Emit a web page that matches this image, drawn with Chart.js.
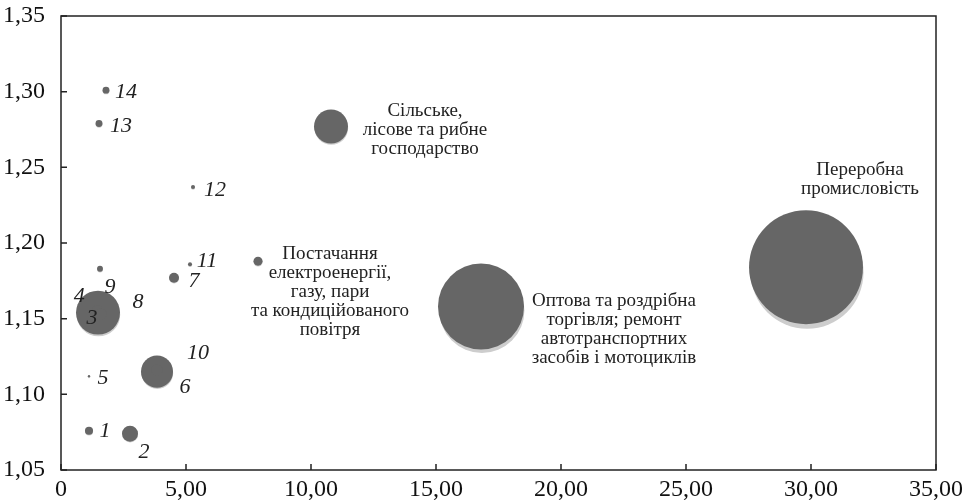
<!DOCTYPE html>
<html>
<head>
<meta charset="utf-8">
<script src="https://cdn.jsdelivr.net/npm/chart.js@4/dist/chart.umd.min.js"></script>
<style>
  body { margin: 0; background: #fff; }
</style>
</head>
<body>
<canvas id="bubbles" width="962" height="501"></canvas>
<script>
// data
var names = ['1', '2', '3', '4', '5', '6', '7', '8', '9', '10', '11', '12', '13', '14',
  'Сільське,\nлісове та рибне\nгосподарство',
  'Постачання\nелектроенергії,\nгазу, пари\nта кондиційованого\nповітря',
  'Оптова та роздрібна\nторгівля; ремонт\nавтотранспортних\nзасобів і мотоциклів',
  'Переробна\nпромисловість'];
var xValues = [1.12, 2.76, 1.48, 1.45, 1.12, 3.84, 4.52, 1.6, 1.56, 3.84, 5.16, 5.28, 1.52, 1.8, 10.8, 7.88, 16.8, 29.8];
var yValues = [1.076, 1.074, 1.154, 1.156, 1.112, 1.115, 1.177, 1.153, 1.183, 1.116, 1.186, 1.237, 1.279, 1.301, 1.277, 1.188, 1.158, 1.184];
var sizes = [0.15, 0.59, 4.47, 0.2, 0.013, 2.37, 0.23, 0.3, 0.08, 0.3, 0.037, 0.037, 0.11, 0.11, 2.67, 0.19, 17.1, 30];
var yTicks = [1.05, 1.10, 1.15, 1.20, 1.25, 1.30, 1.35];

var serif = "'Liberation Serif', 'DejaVu Serif', serif";

var points = [];
for (let i = 0; i < names.length; i++) {
  points.push({ x: xValues[i], y: yValues[i], r: 10.4 * Math.sqrt(sizes[i]) });
}

function fmt(v) {
  return Number(v).toFixed(2).replace(/\./g, ',');
}

// label offsets from bubble centre, px
var labelPos = {
  '1': [16, 1], '2': [14, 19], '3': [-6, 6], '4': [-18, -13], '5': [14, 2],
  '6': [28, 16], '7': [20, 3], '8': [37, -12], '9': [10, 18], '10': [41, -17],
  '11': [17, -3], '12': [22, 3], '13': [22, 3], '14': [20, 2]
};
var sectorPos = [[94, 4], [72, 31], [133, 23], [54, -88]];

// light shadow under every bubble
const shadowPlugin = {
  id: 'shadow',
  beforeDatasetsDraw(chart) {
    const ctx = chart.ctx;
    ctx.save();
    ctx.fillStyle = '#cdcdcd';
    chart.getDatasetMeta(0).data.forEach(el => {
      const r = el.options.radius;
      ctx.beginPath();
      ctx.arc(el.x + r * 0.02, el.y + Math.max(0.8, r * 0.09), r * 0.99, 0, Math.PI * 2);
      ctx.fill();
    });
    ctx.restore();
  }
};

// frame, inward ticks and labels
const framePlugin = {
  id: 'frame',
  afterDraw(chart) {
    const ctx = chart.ctx;
    const a = chart.chartArea;
    const xs = chart.scales.x, ys = chart.scales.y;
    ctx.save();
    ctx.strokeStyle = '#222';
    ctx.lineWidth = 1.5;
    ctx.strokeRect(a.left, a.top, a.right - a.left, a.bottom - a.top);
    ctx.beginPath();
    xs.ticks.forEach(t => {
      const px = xs.getPixelForValue(t.value);
      ctx.moveTo(px, a.bottom);
      ctx.lineTo(px, a.bottom - 6);
    });
    ys.ticks.forEach(t => {
      const py = ys.getPixelForValue(t.value);
      ctx.moveTo(a.left, py);
      ctx.lineTo(a.left + 6, py);
    });
    ctx.stroke();

    ctx.fillStyle = '#222';
    ctx.textAlign = 'center';
    ctx.textBaseline = 'middle';
    const els = chart.getDatasetMeta(0).data;
    els.forEach((el, i) => {
      const name = names[i];
      if (labelPos[name]) {
        ctx.font = 'italic 22px ' + serif;
        ctx.fillText(name, el.x + labelPos[name][0], el.y + labelPos[name][1]);
      } else {
        const off = sectorPos[i - 14];
        const lines = name.split('\n');
        const lh = 19;
        ctx.font = '19px ' + serif;
        lines.forEach((ln, k) => {
          ctx.fillText(ln, el.x + off[0], el.y + off[1] + (k - (lines.length - 1) / 2) * lh);
        });
      }
    });
    ctx.restore();
  }
};

const ctx = document.querySelector('#bubbles').getContext('2d');
const config = {
  type: 'bubble',
  data: {
    datasets: [{
      data: points,
      backgroundColor: '#666666',
      borderWidth: 0,
      hoverBackgroundColor: '#666666'
    }]
  },
  options: {
    responsive: false,
    animation: false,
    layout: { autoPadding: false, padding: { top: 16, right: 26, left: 0, bottom: 0 } },
    plugins: {
      legend: { display: false },
      tooltip: { enabled: false }
    },
    scales: {
      x: {
        type: 'linear',
        min: 0,
        max: 35,
        grid: { display: false, drawTicks: false },
        border: { display: false },
        ticks: {
          stepSize: 5,
          color: '#111',
          padding: 5,
          font: { family: serif, size: 24 },
          callback: (v) => v === 0 ? '0' : fmt(v)
        },
        afterFit: (scale) => {
          scale.height = 31;
          scale.paddingLeft = 0;
          scale.paddingRight = 0;
        }
      },
      y: {
        type: 'linear',
        min: 1.05,
        max: 1.35,
        grid: { display: false, drawTicks: false },
        border: { display: false },
        afterBuildTicks: (scale) => { scale.ticks = yTicks.map(v => ({ value: v })); },
        ticks: {
          color: '#111',
          padding: 16,
          font: { family: serif, size: 24 },
          callback: (v) => fmt(v)
        },
        afterFit: (scale) => {
          scale.width = 61;
          scale.paddingTop = 0;
          scale.paddingBottom = 0;
        }
      }
    }
  },
  plugins: [shadowPlugin, framePlugin]
};

const myChart = new Chart(ctx, config);
</script>
</body>
</html>
